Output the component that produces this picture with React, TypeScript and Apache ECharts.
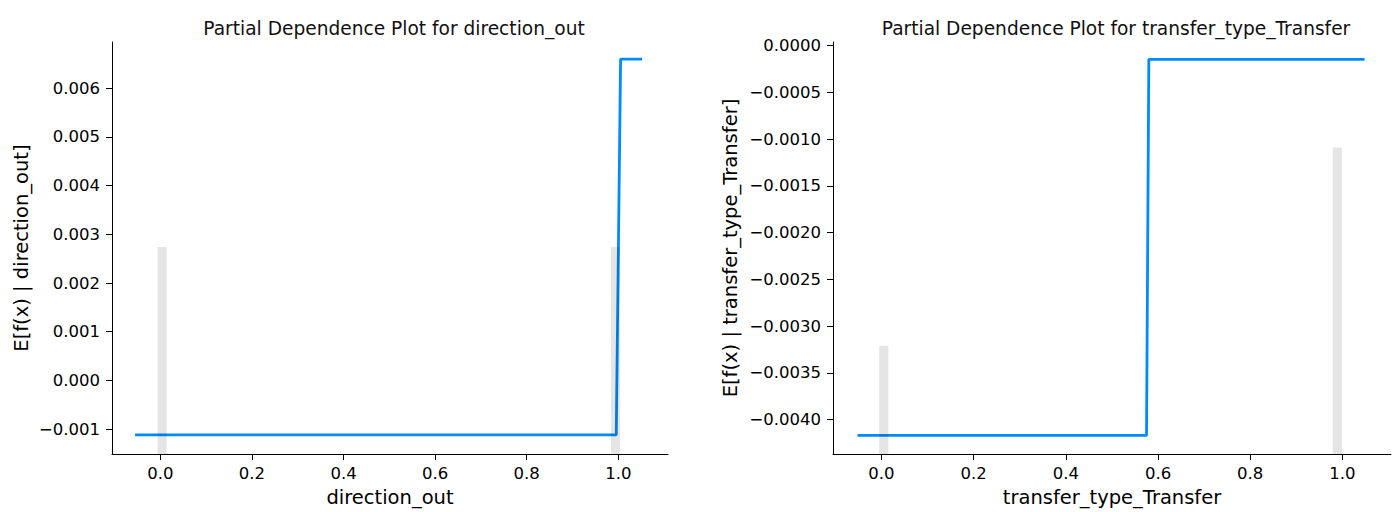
import React, { useEffect, useRef } from "react";
import * as echarts from "echarts";

// ---- data ----
const leftTitle = "Partial Dependence Plot for direction_out";
const rightTitle = "Partial Dependence Plot for transfer_type_Transfer";
const leftFeature = "direction_out";
const rightFeature = "transfer_type_Transfer";

const leftLineX = [-0.055, 0.9955, 1.005, 1.052];
const leftLineY = [-0.00112, -0.00112, 0.0066, 0.0066];
const rightLineX = [-0.052, 0.575, 0.58, 1.048];
const rightLineY = [-0.00417, -0.00417, -0.000145, -0.000145];

const leftHistStart = [-0.006, 0.984];
const leftHistEnd = [0.014, 1.004];
const leftHistTop = [0.00274, 0.00274];
const rightHistStart = [-0.005, 0.979];
const rightHistEnd = [0.015, 0.999];
const rightHistTop = [-0.00321, -0.00109];

const xTicks = [0, 0.2, 0.4, 0.6, 0.8, 1.0];
const leftYTicks = [-0.001, 0, 0.001, 0.002, 0.003, 0.004, 0.005, 0.006];
const rightYTicks = [-0.004, -0.0035, -0.003, -0.0025, -0.002, -0.0015, -0.001, -0.0005, 0];

const FONT = "DejaVu Sans";
const LINE_COLOR = "#008bfb";

const fmt = (digits: number) => (v: number) =>
  v < -1e-12 ? "\u2212" + Math.abs(v).toFixed(digits) : Math.abs(v).toFixed(digits);

const pairs = (xs: number[], ys: number[]) => xs.map((x, i) => [x, ys[i]]);
const histRows = (s: number[], e: number[], t: number[]) => s.map((x, i) => [x, e[i], t[i]]);

const renderHist = (params: any, api: any) => {
  const p0 = api.coord([api.value(0), api.value(2)]);
  const p1 = api.coord([api.value(1), api.value(2)]);
  const cs = params.coordSys;
  const bottom = cs.y + cs.height;
  return {
    type: "rect",
    shape: { x: p0[0], y: p0[1], width: p1[0] - p0[0], height: bottom - p0[1] },
    style: { fill: "rgba(0,0,0,0.1)" },
  };
};

export default function App() {
  const ref = useRef<HTMLDivElement>(null);
  useEffect(() => {
    if (!ref.current) return;
    const chart = echarts.init(ref.current, null, { renderer: "svg" });
    const axisLine = { show: true, onZero: false, lineStyle: { color: "#000", width: 1 } };
    const axisTickX = { show: true, length: 6, lineStyle: { color: "#000" }, customValues: xTicks };
    const xAxisCommon = (gridIndex: number, min: number, max: number, name: string) => ({
      type: "value",
      gridIndex,
      min,
      max,
      axisLine,
      axisTick: axisTickX,
      splitLine: { show: false },
      axisLabel: {
        customValues: xTicks,
        formatter: fmt(1),
        color: "#000",
        fontFamily: FONT,
        fontSize: 16.5,
        margin: 11,
      },
      name,
      nameLocation: "middle",
      nameGap: 31,
      nameTextStyle: { color: "#000", fontFamily: FONT, fontSize: 19.5 },
    });
    const yAxisCommon = (
      gridIndex: number,
      min: number,
      max: number,
      ticks: number[],
      digits: number,
      name: string,
      nameGap: number
    ) => ({
      type: "value",
      gridIndex,
      min,
      max,
      axisLine,
      axisTick: { show: true, length: 6, lineStyle: { color: "#000" }, customValues: ticks },
      splitLine: { show: false },
      axisLabel: {
        customValues: ticks,
        formatter: fmt(digits),
        color: "#000",
        fontFamily: FONT,
        fontSize: 16.5,
        margin: 12,
      },
      name,
      nameLocation: "middle",
      nameRotate: 90,
      nameGap,
      nameTextStyle: { color: "#000", fontFamily: FONT, fontSize: 19.5 },
    });

    const titleStyle = { fontFamily: FONT, fontSize: 18.6, fontWeight: "normal", color: "#111" };

    chart.setOption({
      animation: false,
      backgroundColor: "#fff",
      title: [
        { text: leftTitle, left: 389, top: 14, textAlign: "center", textStyle: titleStyle },
        { text: rightTitle, left: 1111, top: 14, textAlign: "center", textStyle: titleStyle },
      ],
      grid: [
        { left: 112, top: 42, width: 556, height: 413 },
        { left: 833, top: 42, width: 558, height: 413 },
      ],
      xAxis: [
        xAxisCommon(0, -0.1055, 1.1085, leftFeature),
        xAxisCommon(1, -0.1052, 1.1054, rightFeature),
      ],
      yAxis: [
        yAxisCommon(0, -0.001514, 0.00695, leftYTicks, 3, `E[f(x) | ${leftFeature}]`, 81),
        yAxisCommon(1, -0.00437, 0.00004, rightYTicks, 4, `E[f(x) | ${rightFeature}]`, 93),
      ],
      series: [
        {
          type: "line",
          xAxisIndex: 0,
          yAxisIndex: 0,
          data: pairs(leftLineX, leftLineY),
          symbol: "none",
          lineStyle: { color: LINE_COLOR, width: 2.8 },
          z: 2,
        },
        {
          type: "custom",
          xAxisIndex: 0,
          yAxisIndex: 0,
          data: histRows(leftHistStart, leftHistEnd, leftHistTop),
          encode: { x: [0, 1], y: 2 },
          renderItem: renderHist,
          z: 3,
        },
        {
          type: "line",
          xAxisIndex: 1,
          yAxisIndex: 1,
          data: pairs(rightLineX, rightLineY),
          symbol: "none",
          lineStyle: { color: LINE_COLOR, width: 2.8 },
          z: 2,
        },
        {
          type: "custom",
          xAxisIndex: 1,
          yAxisIndex: 1,
          data: histRows(rightHistStart, rightHistEnd, rightHistTop),
          encode: { x: [0, 1], y: 2 },
          renderItem: renderHist,
          z: 3,
        },
      ],
    });
    return () => chart.dispose();
  }, []);
  return (
    <div
      ref={ref}
      style={{ position: "fixed", left: 0, top: 0, width: 1395, height: 512, background: "#fff" }}
    />
  );
}
